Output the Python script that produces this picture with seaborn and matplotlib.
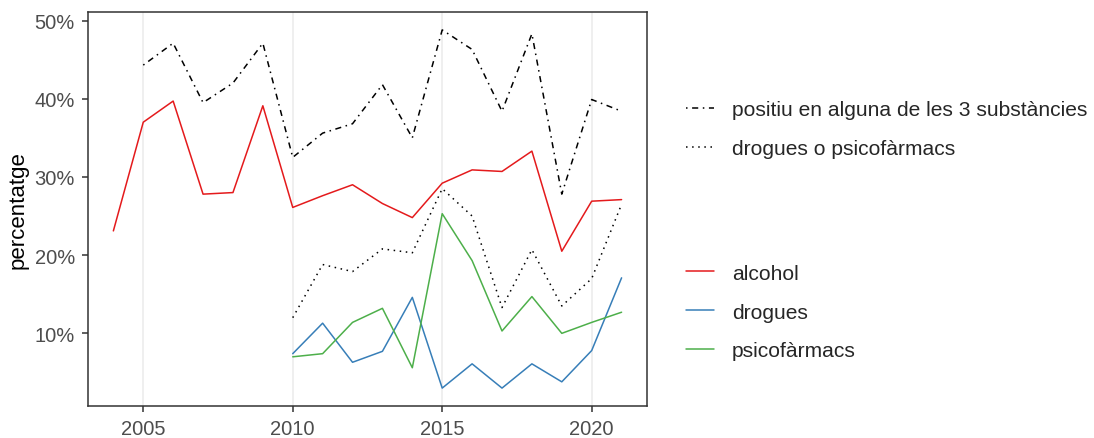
import pandas as pd
import matplotlib.pyplot as plt
import matplotlib.ticker as mticker
from matplotlib.lines import Line2D
import seaborn as sns

years_all = list(range(2004, 2022))
years_sub = list(range(2010, 2022))

alcohol = [23.1, 37.0, 39.7, 27.8, 28.0, 39.1, 26.1, 27.6, 29.0, 26.6, 24.8,
           29.2, 30.9, 30.7, 33.3, 20.5, 26.9, 27.1]
positiu = [None, 44.3, 47.1, 39.5, 42.0, 47.1, 32.5, 35.6, 36.8, 41.8, 35.0,
           48.8, 46.3, 38.4, 48.3, 27.8, 39.9, 38.4]
drog_o_psico = [12.0, 18.8, 17.9, 20.8, 20.3, 28.5, 25.0, 13.3, 20.7, 13.5, 17.0, 26.5]
drogues = [7.4, 11.3, 6.3, 7.7, 14.6, 3.0, 6.1, 3.0, 6.1, 3.8, 7.8, 17.1]
psicofarmacs = [7.0, 7.4, 11.4, 13.2, 5.6, 25.3, 19.3, 10.3, 14.7, 10.0, 11.4, 12.7]

labels_total = ["positiu en alguna de les 3 substàncies", "drogues o psicofàrmacs"]
labels_subst = ["alcohol", "drogues", "psicofàrmacs"]
colors = {"alcohol": "#E41A1C", "drogues": "#377EB8", "psicofàrmacs": "#4DAF4A"}

df_subst = pd.concat([
    pd.DataFrame({"any": years_all, "pct": alcohol, "substancia": "alcohol"}),
    pd.DataFrame({"any": years_sub, "pct": drogues, "substancia": "drogues"}),
    pd.DataFrame({"any": years_sub, "pct": psicofarmacs, "substancia": "psicofàrmacs"}),
])
df_pos = pd.DataFrame({"any": years_all, "pct": positiu}).dropna()
df_dp = pd.DataFrame({"any": years_sub, "pct": drog_o_psico})

sns.set_theme(style="white")
plt.rcParams['font.family'] = ['Liberation Sans', 'DejaVu Sans']

fig = plt.figure(figsize=(10.94, 4.39), dpi=100)
ax = fig.add_axes([0.0804, 0.0729, 0.511, 0.8975])

lw = 1.1
sns.lineplot(data=df_subst, x="any", y="pct", hue="substancia", palette=colors,
             linewidth=lw, ax=ax, legend=False)
sns.lineplot(data=df_pos, x="any", y="pct", color="black", linewidth=lw, ax=ax)
ax.lines[-1].set_dashes((1, 3, 4, 3))
sns.lineplot(data=df_dp, x="any", y="pct", color="black", linewidth=lw, ax=ax)
ax.lines[-1].set_dashes((1, 3))

# limits with ggplot-like expansion
allv = alcohol + [v for v in positiu if v is not None] + drog_o_psico + drogues + psicofarmacs
lo, hi = min(allv), max(allv)
pad = (hi - lo) * 0.05
ax.set_ylim(lo - pad, hi + pad)
ax.set_xlim(2004 - 0.85, 2021 + 0.85)

ax.set_xticks([2005, 2010, 2015, 2020])
ax.set_yticks([10, 20, 30, 40, 50])
ax.yaxis.set_major_formatter(mticker.FuncFormatter(lambda v, p: f"{v:.0f}%"))
ax.xaxis.grid(True, color="#EBEBEB", linewidth=1.1)
ax.yaxis.grid(False)
ax.set_axisbelow(True)
for s in ax.spines.values():
    s.set_color("#333333")
    s.set_linewidth(1.1)
ax.tick_params(axis="both", which="major", length=4.5, width=1.1, color="#333333",
               labelsize=14.5, labelcolor="#4D4D4D", pad=5, bottom=True, left=True)
ax.set_xlabel("")
ax.set_ylabel("percentatge", fontsize=16, color="black", labelpad=4)

leg_kw = dict(loc="center left", frameon=False, fontsize=15.1, handlelength=1.33,
              handletextpad=0.86, labelspacing=0.95)
h1 = [Line2D([], [], color="black", linewidth=lw, dashes=(1, 3, 4, 3)),
      Line2D([], [], color="black", linewidth=lw, dashes=(1, 3))]
fig.legend(h1, labels_total, bbox_to_anchor=(0.610, 0.7035), **leg_kw)
h2 = [Line2D([], [], color=colors[k], linewidth=lw) for k in labels_subst]
fig.legend(h2, labels_subst, bbox_to_anchor=(0.610, 0.287), **leg_kw)

plt.savefig("out.png", dpi=100)
